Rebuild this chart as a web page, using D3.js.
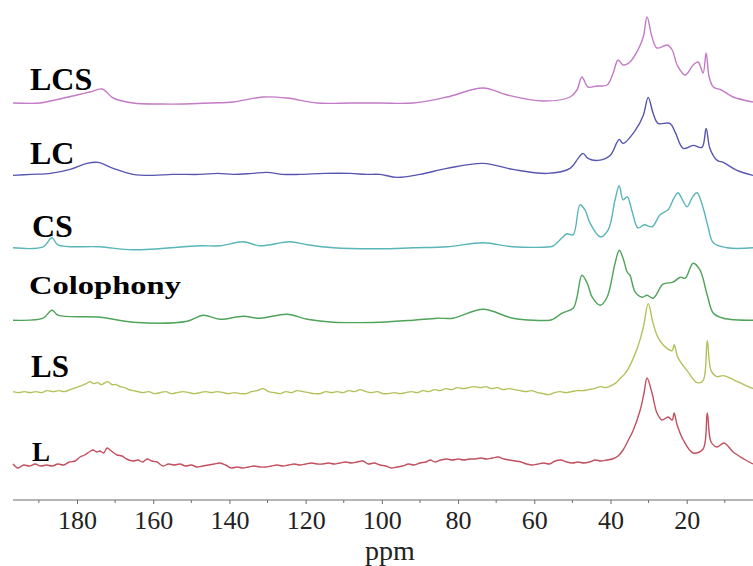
<!DOCTYPE html>
<html>
<head>
<meta charset="utf-8">
<script src="https://cdn.jsdelivr.net/npm/d3@7"></script>
<style>
  body { margin: 0; background: #fff; }
  .label { font-family: "Liberation Serif", "Times New Roman", serif; font-weight: bold; fill: #000; }
  .tick text { font-family: "Liberation Serif", "Times New Roman", serif; }
</style>
</head>
<body>
<svg width="753" height="566"></svg>
<script>
// sample names, bottom to top
var samples = ["L", "LS", "Colophony", "CS", "LC", "LCS"];
var colors = ["#c2505e", "#b5c05a", "#4fa35a", "#58b5b8", "#5656b0", "#c47ac6"];

// chemical shift (ppm) and intensity (a.u.)
var ppmL = [196.8, 195.5, 194, 192.5, 191, 189.5, 188, 186.5, 185, 183.5, 182, 180.5, 179.2, 178, 176.8, 175.8, 174.8, 174, 173, 172.1, 171, 169.5, 168.2, 167, 165.3, 164, 162.8, 161.6, 160.4, 159, 157.4, 156, 154.5, 153, 151.5, 150, 148.5, 147, 145.5, 144, 142.5, 141, 139.5, 138, 136.5, 135, 133.5, 132, 130.5, 129, 127.5, 126, 124.5, 123, 121.5, 120, 118.5, 117, 115.5, 114, 112.5, 111, 109.5, 108, 106.5, 105, 103.5, 102, 100.5, 99, 97.5, 96, 94.5, 93, 91.5, 90, 88.5, 87.3, 86, 84.5, 83, 81.5, 80, 78.5, 77, 75.5, 74, 72.5, 71, 69.5, 68, 66.5, 65, 63.5, 62, 60.5, 59, 57.5, 56, 54.5, 53, 51.5, 50, 48.5, 47, 45.5, 44, 42.5, 41, 39.5, 38, 36.7, 35.3, 34, 32.2, 31.2, 30.4, 29.1, 27.8, 26.5, 24.9, 23.8, 23.3, 22.5, 20.9, 18.3, 15.7, 14.6, 13.6, 12, 10.2, 7.8, 5, 2.6];
var intL = [1, -3, 0, -1, 1, -1, 0, -1, 1, 0, 3, 4, 8, 10, 13, 15, 13, 14, 12, 17, 14, 10, 9, 6, 4, 5, 3, 6, 4, 3, -1, 1, 0, 1, -1, 0, -2, -1, 0, 1, 2, 0, -3, -2, -3, -2, -1, -2, -2, -1, 0, -1, 0, 1, 0, 1, 2, 1, 1, 2, 1, 2, 3, 2, 3, 4, 1, 2, 0, -1, -3, -2, -1, 1, 0, 2, 3, 5, 3, 5, 6, 5, 6, 5, 6, 6, 7, 6, 7, 8, 6, 5, 4, 3, 1, 0, 1, 2, 1, 4, 5, 3, 2, 3, 2, 3, 5, 4, 5, 6, 9, 15, 25, 35, 55, 72, 87, 72, 52, 45, 48, 45, 52, 40, 25, 12, 16, 52, 23, 18, 22, 13, 6, 1];

var ppmLS = [196.8, 195.3, 193.8, 192.3, 190.8, 189.3, 187.8, 186.3, 184.8, 183.3, 181.8, 180.3, 178.8, 177.6, 176.6, 175.6, 174.6, 173.6, 172.6, 171.9, 170.8, 169.7, 168.7, 167.5, 166.4, 165.3, 164, 162.7, 161.2, 159.7, 158.2, 156.7, 155.2, 153.7, 152.2, 150.7, 149.2, 147.7, 146.2, 144.7, 143.2, 141.7, 140.2, 138.7, 137.2, 135.7, 134.2, 132.7, 131.2, 129.7, 128.2, 126.7, 125.2, 123.7, 122.2, 120.7, 119.2, 117.7, 116.2, 114.7, 113.2, 111.7, 110.2, 108.7, 107.2, 105.7, 104.2, 102.7, 101.2, 99.7, 98.2, 96.7, 95.2, 93.7, 92.2, 90.7, 89.2, 87.7, 86.2, 84.7, 83.2, 81.7, 80.2, 78.7, 77.2, 75.7, 74.2, 72.7, 71.2, 69.7, 68.2, 66.7, 65.2, 63.7, 62.2, 60.7, 59.2, 57.7, 56.2, 54.7, 53.2, 51.7, 50.2, 48.7, 47.2, 45.7, 44.2, 42.7, 41.2, 39.8, 38.5, 37.5, 36.2, 34.9, 33, 31.4, 30.1, 28.8, 27.5, 25.1, 23.8, 23.3, 22.3, 19.9, 17.3, 15.7, 14.6, 13.6, 12, 10.4, 7.8, 5, 2.6];
var intLS = [1, 0, 1, 0, 1, 0, 2, 1, 2, 1, 3, 5, 7, 9, 11, 9, 10, 8, 10, 11, 8, 8, 6, 5, 3, 2, 1, 0, 1, -1, 0, 1, -1, 0, 1, 0, -1, 0, 1, 0, 1, 0, -1, 0, -1, -1, 1, 2, 4, 1, 0, -1, 1, 0, 2, 1, 0, -1, -1, 1, 0, 1, 0, 2, 1, 3, 1, 0, 1, -1, -1, 0, -1, 0, 1, 0, 2, 1, 3, 2, 4, 3, 5, 4, 5, 6, 5, 6, 4, 5, 3, 4, 3, 2, 1, 2, 0, -1, -2, 0, 1, 0, 1, 2, 2, 3, 4, 6, 5, 7, 10, 14, 19, 27, 44, 65, 89, 69, 55, 44, 42, 48, 35, 22, 10, 12, 52, 22, 16, 17, 13, 8, 4];

var ppmColophony = [196.8, 188.9, 186.6, 185, 174, 165.3, 151.1, 146.9, 142.5, 136.4, 132, 124.9, 119.6, 112.8, 100.5, 91.8, 85.5, 81.3, 73.4, 65.6, 55.9, 55, 52.7, 49.8, 48.8, 47.5, 46.1, 44.8, 42.7, 40.9, 38.8, 37.7, 36.7, 35.6, 34.9, 33.5, 31.7, 30.4, 28.8, 26.2, 23.6, 21.7, 20.4, 18.3, 16.5, 14.6, 13, 10.4, 2.6];
var intColophony = [0, 2, 10, 5, 3, -2, -1, 5, 1, 4, 2, 6, 1, -2, -2, 0, 2, 2, 11, 2, 0, 1, 7, 12, 23, 45, 37, 23, 15, 23, 57, 70, 62, 48, 45, 28, 23, 25, 22, 36, 38, 43, 42, 57, 50, 25, 7, 2, 0];

var ppmCS = [196.8, 188.9, 186.6, 185, 174, 165.3, 147.7, 142.5, 136.4, 132, 124.1, 119.6, 112.8, 100.5, 91.8, 82.9, 73.4, 65.6, 55.9, 55, 52.7, 51.4, 49.8, 48, 46.7, 45.4, 42.7, 40.6, 38.8, 37.7, 36.7, 35.6, 34.3, 32.8, 31.1, 29.1, 27, 24.9, 23.3, 22.3, 19.9, 18.6, 17.3, 15.7, 14.4, 13, 9.4, 2.6];
var intCS = [0, 1, 10, 3, 1, -2, 2, 2, 6, 2, 6, 3, 0, -1, 0, 1, 5, 1, 1, 2, 10, 14, 13, 43, 38, 25, 11, 18, 48, 62, 48, 51, 36, 20, 23, 21, 33, 38, 50, 55, 41, 50, 55, 40, 21, 5, 0, 0];

var ppmLC = [196.8, 192, 187, 181.8, 177.4, 174.5, 170.5, 165.3, 160, 155, 147.7, 143, 139, 134, 130.1, 126, 121.5, 115, 108.3, 104, 100.5, 96, 90, 82.9, 73.4, 65.6, 56.6, 50.6, 48.5, 47.2, 45.9, 43.3, 40.1, 38.3, 37.7, 36.7, 33.5, 31.4, 30.1, 28.8, 27.5, 24.4, 23, 20.9, 18.3, 16, 14.9, 13.9, 12, 10.4, 6.8, 2.6];
var intLC = [0, 1, 2, 6, 12, 13, 7, 1, 0, 1, 1, 2, 1, 2, 3, 1, 1, 2, 2, 1, 1, -2, 1, 7, 12, 6, 2, 7, 17, 22, 17, 15, 20, 33, 36, 32, 45, 60, 78, 62, 52, 52, 43, 27, 30, 28, 47, 27, 15, 13, 5, 0];

var ppmLCS = [196.8, 189.7, 187, 180, 176.6, 173.4, 170.5, 165.3, 158, 152, 145, 139, 131.2, 124.9, 117, 108, 100.5, 91.8, 82.9, 73.4, 67.1, 57.7, 50.6, 48.8, 47.5, 45.9, 43.5, 40.9, 39.3, 38, 36.7, 34.9, 32.8, 31.4, 30.4, 29.1, 27.8, 25.1, 23.8, 22.5, 20.4, 18.3, 17, 15.7, 14.9, 14.1, 13, 10.9, 7.8, 2.6];
var intLCS = [0, 0, 2, 8, 11, 14, 5, 0, -1, -1, 0, 1, 6, 5, 0, 0, 0, 0, 6, 15, 8, 2, 6, 13, 26, 16, 17, 18, 30, 43, 38, 41, 53, 66, 86, 66, 55, 58, 53, 38, 28, 38, 41, 30, 50, 26, 16, 13, 6, 1];

var ppmTicks = [180, 160, 140, 120, 100, 80, 60, 40, 20];

var spectra = [
  {name: "L", ppm: ppmL, y: intL},
  {name: "LS", ppm: ppmLS, y: intLS},
  {name: "Colophony", ppm: ppmColophony, y: intColophony},
  {name: "CS", ppm: ppmCS, y: intCS},
  {name: "LC", ppm: ppmLC, y: intLC},
  {name: "LCS", ppm: ppmLCS, y: intLCS}
];

var svg = d3.select("svg"),
    width = +svg.attr("width"),
    height = +svg.attr("height");

var axisY = 500;

// reversed ppm axis, as in NMR
var x = d3.scaleLinear()
    .domain([196.8, 2.6])
    .range([13, 753]);

var base = d3.scalePoint()
    .domain(samples)
    .range([465, 103]);

var amp = d3.scaleLinear()
    .domain([0, 100])
    .range([0, 100]);

var color = d3.scaleOrdinal()
    .domain(samples)
    .range(colors);

var line = d3.line()
    .curve(d3.curveCatmullRom.alpha(0.5));

svg.append("g")
    .attr("class", "traces")
  .selectAll("path")
  .data(spectra)
  .enter().append("path")
    .attr("fill", "none")
    .attr("stroke", function(d) { return color(d.name); })
    .attr("stroke-width", 1.4)
    .attr("stroke-linejoin", "round")
    .attr("d", function(d) {
      var b = base(d.name);
      return line(d.ppm.map(function(p, i) { return [x(p), b - amp(d.y[i])]; }));
    });

// sample labels: x, baseline, size, stretched width
var labelPos = {
  "LCS": [30, 90, 32, null],
  "LC": [30, 164, 32, null],
  "CS": [32, 237, 32, null],
  "Colophony": [29, 294, 25, 152],
  "LS": [31, 377, 31, null],
  "L": [32, 461, 27, null]
};

svg.append("g")
  .selectAll("text")
  .data(samples)
  .enter().append("text")
    .attr("class", "label")
    .attr("x", function(d) { return labelPos[d][0]; })
    .attr("y", function(d) { return labelPos[d][1]; })
    .attr("font-size", function(d) { return labelPos[d][2]; })
    .attr("textLength", function(d) { return labelPos[d][3]; })
    .attr("lengthAdjust", "spacingAndGlyphs")
    .text(function(d) { return d; });

// axis
var axis = d3.axisBottom(x)
    .tickValues(ppmTicks)
    .tickSize(4)
    .tickPadding(7)
    .tickFormat(d3.format("d"));

var gx = svg.append("g")
    .attr("transform", "translate(0," + axisY + ")")
    .call(axis);

gx.select(".domain").remove();
gx.append("line")
    .attr("x1", 13).attr("x2", 753)
    .attr("stroke", "#6e6e6e");
gx.selectAll(".tick line").attr("stroke", "#6e6e6e");
gx.selectAll(".tick text")
    .attr("font-size", 26)
    .attr("fill", "#222");

gx.selectAll(".minor")
  .data(d3.range(190, 0, -20))
  .enter().append("line")
    .attr("class", "minor")
    .attr("x1", function(d) { return x(d); })
    .attr("x2", function(d) { return x(d); })
    .attr("y1", 0).attr("y2", 3)
    .attr("stroke", "#6e6e6e");

svg.append("text")
    .attr("x", 390)
    .attr("y", 560)
    .attr("text-anchor", "middle")
    .attr("font-family", "Liberation Serif, Times New Roman, serif")
    .attr("font-size", 28)
    .attr("fill", "#222")
    .text("ppm");
</script>
</body>
</html>
